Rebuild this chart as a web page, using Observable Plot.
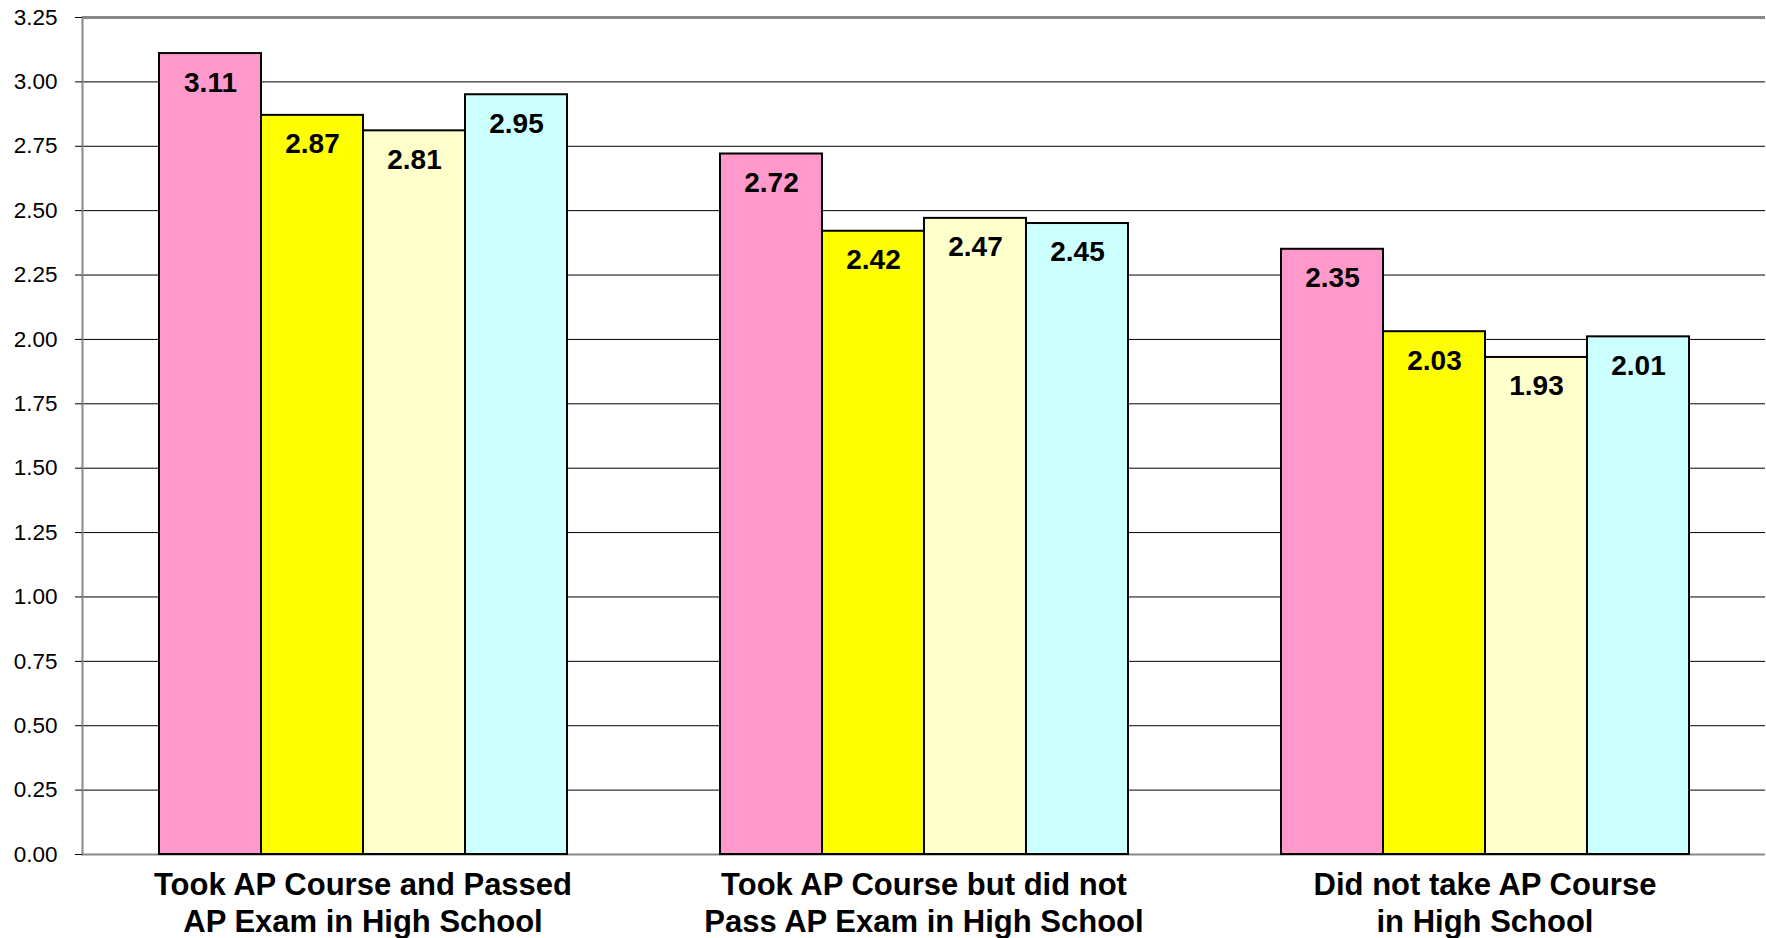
<!DOCTYPE html>
<html><head><meta charset="utf-8">
<script src="https://cdn.jsdelivr.net/npm/d3@7"></script>
<script src="https://cdn.jsdelivr.net/npm/@observablehq/plot@0.6"></script>
<style>body{margin:0;background:#fff}</style>
</head><body><div id="chart"></div>
<script>
const categories = [
  "Took AP Course and Passed AP Exam in High School",
  "Took AP Course but did not Pass AP Exam in High School",
  "Did not take AP Course in High School"
];
const categoryLabels = [
  "Took AP Course and Passed\nAP Exam in High School",
  "Took AP Course but did not\nPass AP Exam in High School",
  "Did not take AP Course\nin High School"
];
const series = ["Series 1", "Series 2", "Series 3", "Series 4"];
const series1 = [3.11, 2.72, 2.35];
const series2 = [2.87, 2.42, 2.03];
const series3 = [2.81, 2.47, 1.93];
const series4 = [2.95, 2.45, 2.01];
const seriesColors = ["#FF99CC", "#FFFF00", "#FFFFCC", "#CCFFFF"];
const yTicks = [0, 0.25, 0.5, 0.75, 1, 1.25, 1.5, 1.75, 2, 2.25, 2.5, 2.75, 3, 3.25];

const seriesValues = [series1, series2, series3, series4];
const rows = [];
categories.forEach((c, i) => series.forEach((s, j) => rows.push({category: c, series: s, value: seriesValues[j][i]})));

const chart = Plot.plot({
  width: 1766, height: 938,
  marginLeft: 81, marginRight: 0, marginTop: 17, marginBottom: 84,
  style: {fontFamily: "Arial, 'Liberation Sans', sans-serif", color: "#000", background: "#fff"},
  fx: {domain: categories, padding: 0, label: null},
  x: {domain: series, paddingInner: 0, paddingOuter: 0.747, axis: null},
  y: {domain: [0, 3.25], label: null},
  color: {domain: series, range: seriesColors},
  marks: [
    Plot.ruleY(yTicks.filter(t => t > 0 && t < 3.25), {stroke: "#000", strokeWidth: 1}),
    Plot.ruleY([3.25], {stroke: "#888", strokeWidth: 3}),
    Plot.ruleY([0], {stroke: "#888", strokeWidth: 2}),
    Plot.frame({anchor: "left", facetAnchor: "left", stroke: "#888", strokeWidth: 2}),
    Plot.barY(rows, {fx: "category", x: "series", y: "value", fill: "series", stroke: "#000", strokeWidth: 2}),
    Plot.text(rows, {fx: "category", x: "series", y: "value", text: d => d.value.toFixed(2), dy: 29, fontSize: 28, fontWeight: "bold", fill: "#000"}),
    Plot.axisY({ticks: yTicks, tickFormat: d3.format(".2f"), tickSize: 7, tickPadding: 18, fontSize: 22.5, label: null, stroke: "#000"}),
    Plot.axisFx({anchor: "bottom", tickSize: 0, tickPadding: 14, fontSize: 31, fontWeight: "bold", lineHeight: 1.19, tickFormat: c => categoryLabels[categories.indexOf(c)], label: null})
  ]
});
document.getElementById("chart").appendChild(chart);
</script>
</body></html>
